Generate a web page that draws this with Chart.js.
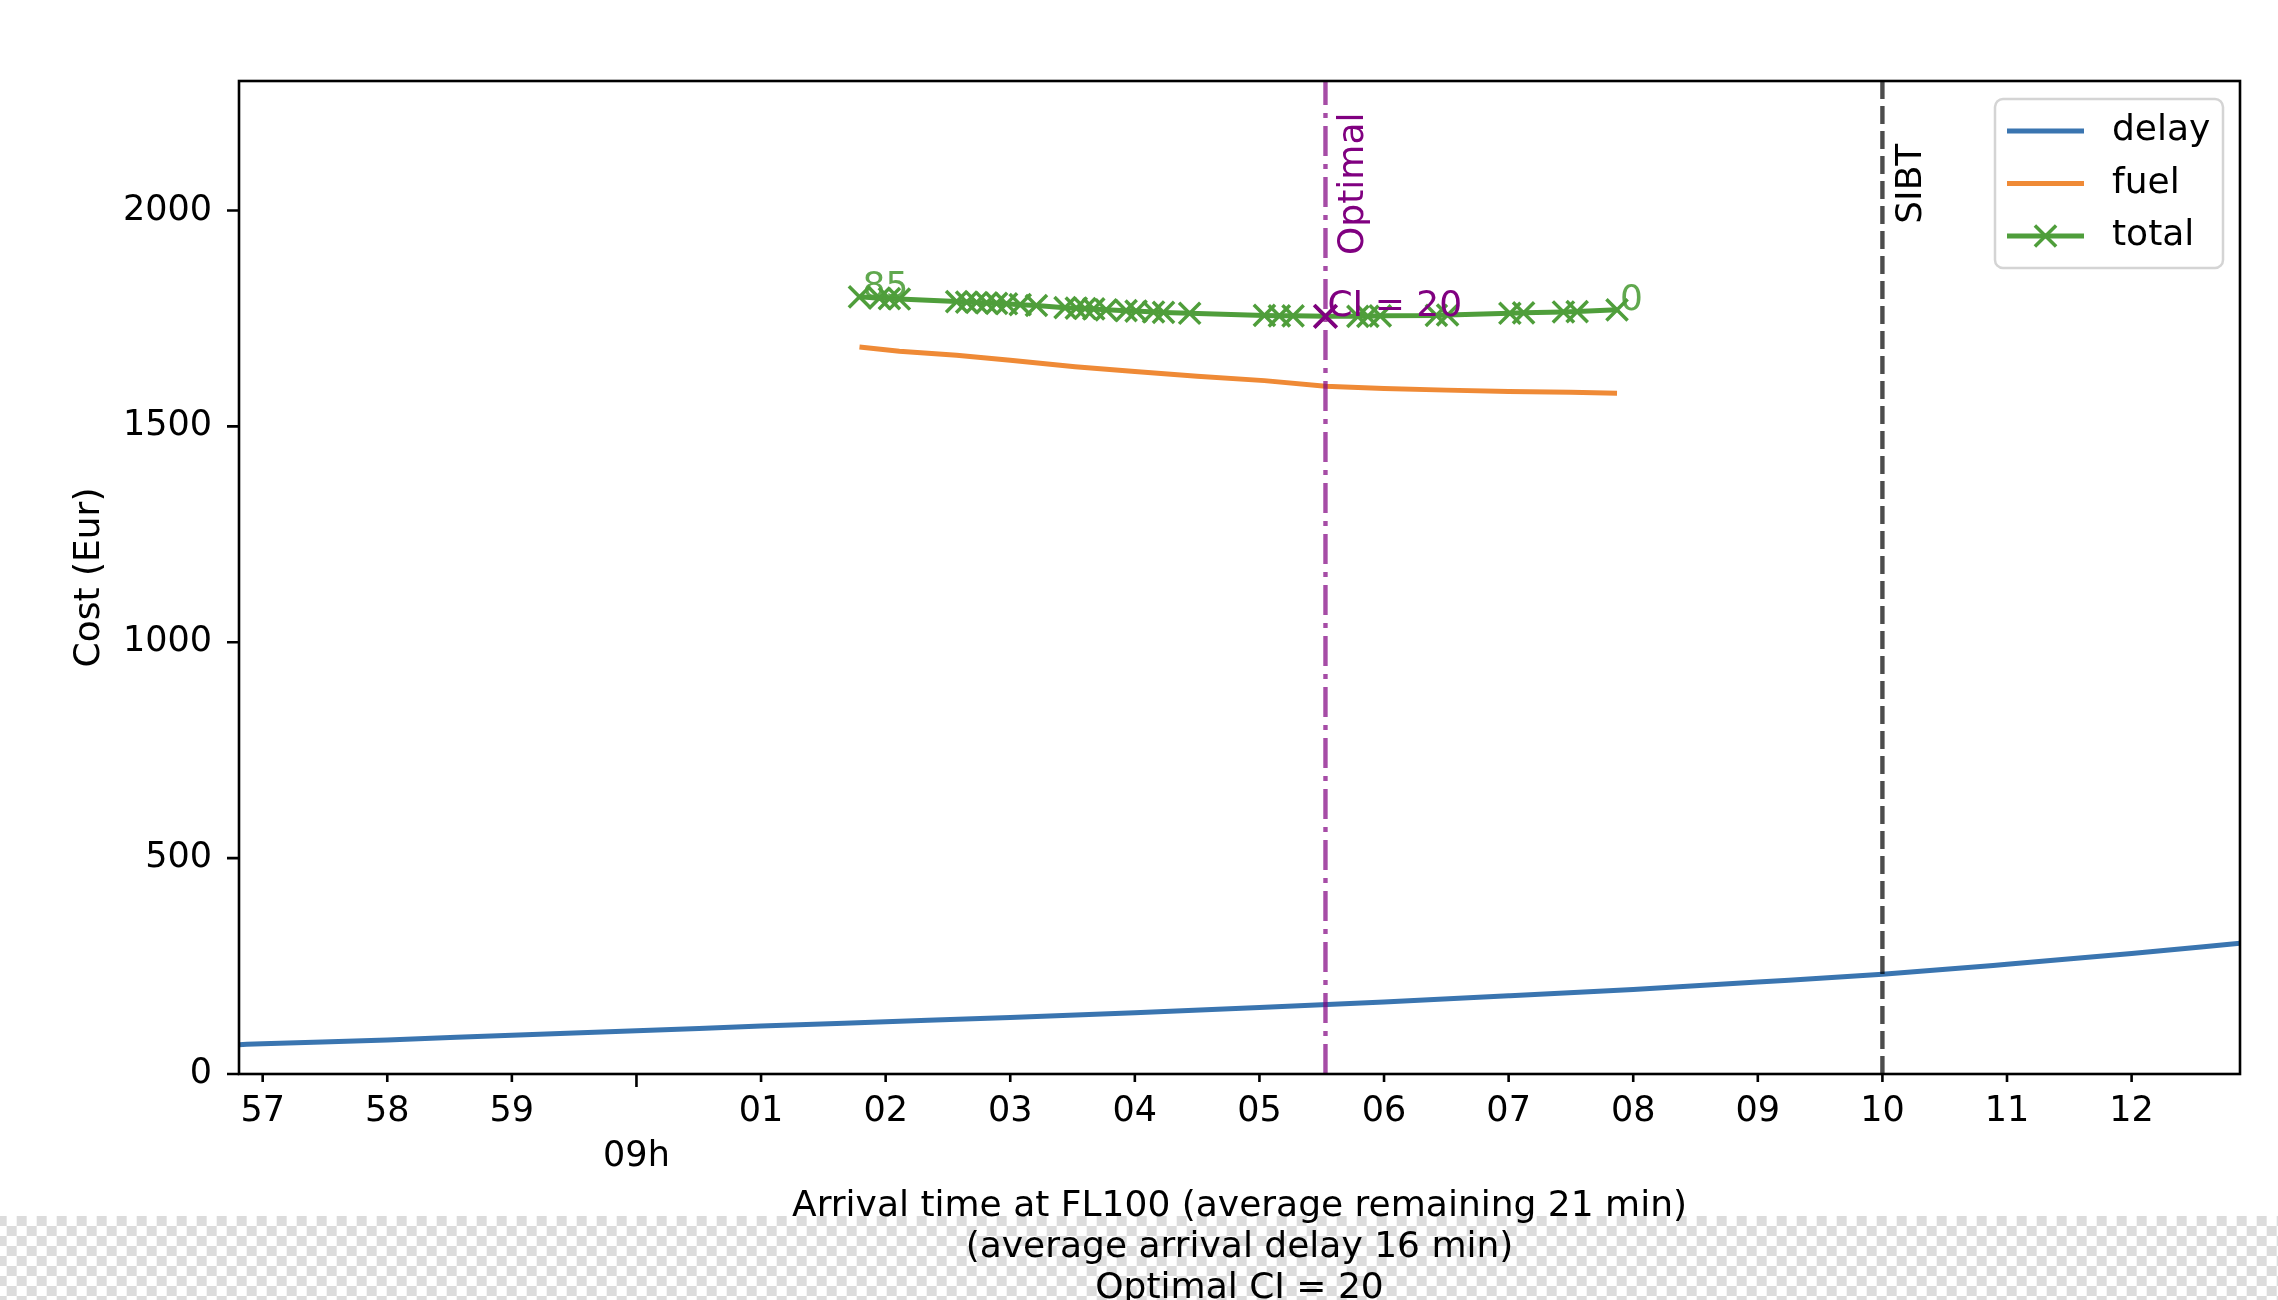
<!DOCTYPE html>
<html>
<head>
<meta charset="utf-8">
<script src="https://cdn.jsdelivr.net/npm/chart.js@4.4.1/dist/chart.umd.min.js"></script>
<style>
  html, body { margin: 0; padding: 0; width: 2278px; height: 1300px; overflow: hidden; background: #fff; }
  #checker {
    position: absolute; left: 0; top: 1216px; width: 2278px; height: 84px;
    background-color: #fff;
    background-image: conic-gradient(#dcdcdc 25%, #fff 0 50%, #dcdcdc 0 75%, #fff 0);
    background-size: 20px 20px;
    background-position: 6.7px 0;
  }
  #c { position: absolute; left: 0; top: 0; }
</style>
</head>
<body>
<div id="checker"></div>
<canvas id="c" width="2278" height="1300"></canvas>
<script>
// x values are minutes relative to 09:00
const delayX = [-3.19, -3, -2, -1, 0, 1, 2, 3, 4, 5, 6, 7, 8, 9, 10, 11, 12, 12.87];
const delayY = [68, 70, 79, 90, 100, 111, 121, 131, 142, 154, 167, 181, 196, 213, 231, 254, 279, 303];

const fuelX = [1.79, 2.11, 2.57, 3.0, 3.52, 4.0, 4.5, 5.04, 5.53, 6.0, 6.5, 7.0, 7.5, 7.87];
const fuelY = [1684, 1674, 1665, 1653, 1638, 1627, 1616, 1606, 1593, 1588, 1584, 1581, 1579, 1577];

const totalX = [1.79, 1.95, 2.03, 2.11, 2.57, 2.65, 2.73, 2.81, 2.89, 2.97, 3.08, 3.21,
                3.44, 3.53, 3.60, 3.67, 3.77, 3.93, 4.01, 4.15, 4.23, 4.44,
                5.04, 5.16, 5.27, 5.53, 5.79, 5.87, 5.97, 6.42, 6.51,
                7.01, 7.12, 7.44, 7.55, 7.87];
const totalY = [1800, 1797, 1796, 1795, 1789, 1788, 1787, 1786, 1785, 1784, 1782, 1780,
                1775, 1774, 1773, 1772, 1770, 1768, 1767, 1765, 1764, 1762,
                1757, 1756, 1756, 1755, 1755, 1755, 1756, 1757, 1758,
                1762, 1763, 1765, 1766, 1770];
const ciLabels = ["85", "0"]; // cost index at first and last point

const optimalX = 5.53;
const optimalY = 1755;
const optimalText = "CI = 20";
const sibtX = 10;

const xMin = -3.19, xMax = 12.87;
const yMin = 0, yMax = 2300;
const xTicks = [-3, -2, -1, 0, 1, 2, 3, 4, 5, 6, 7, 8, 9, 10, 11, 12];
const xTickLabels = ["57", "58", "59", "", "01", "02", "03", "04", "05", "06", "07", "08", "09", "10", "11", "12"];
const hourTick = 0;
const hourLabel = "09h";
const yTicks = [0, 500, 1000, 1500, 2000];

const xTitle = ["Arrival time at FL100 (average remaining 21 min)",
                "(average arrival delay 16 min)",
                "Optimal CI = 20"];
const yTitle = "Cost (Eur)";

const BLUE = "#3a75b0";
const ORANGE = "#ef8a36";
const GREEN = "#4f9e3b";
const PURPLE = "#800080";
const FONT = "DejaVu Sans";

Chart.defaults.font.family = FONT;

const pts = (xs, ys) => xs.map((x, i) => ({ x: x, y: ys[i] }));

const framePlugin = {
  id: "frame",
  afterDatasetsDraw(chart) {
    const { ctx, chartArea: a, scales } = chart;
    ctx.save();
    ctx.strokeStyle = "#000";
    ctx.lineWidth = 2.6;
    ctx.beginPath();
    xTicks.forEach(v => {
      const px = scales.x.getPixelForValue(v);
      ctx.moveTo(px, a.bottom);
      ctx.lineTo(px, a.bottom + (v === hourTick ? 13 : 8));
    });
    yTicks.forEach(v => {
      const py = scales.y.getPixelForValue(v);
      ctx.moveTo(a.left, py);
      ctx.lineTo(a.left - 12, py);
    });
    ctx.stroke();
    ctx.strokeRect(a.left, a.top, a.right - a.left, a.bottom - a.top);
    ctx.restore();
  },
  afterDraw(chart) {
    const { ctx, scales } = chart;
    const total = chart.getDatasetMeta(3).data;
    ctx.save();
    ctx.font = "36px '" + FONT + "'";
    ctx.textAlign = "left";
    ctx.textBaseline = "alphabetic";
    // CI annotations on the total curve
    ctx.fillStyle = "rgba(79,158,59,0.9)";
    ctx.fillText(ciLabels[0], total[0].x + 3, total[0].y);
    const last = total[total.length - 1];
    ctx.fillText(ciLabels[1], last.x + 3, last.y);
    const opt = chart.getDatasetMeta(0).data[0];
    ctx.fillStyle = PURPLE;
    ctx.fillText(optimalText, opt.x + 2, opt.y);

    // rotated labels of the vertical lines
    const yc = scales.y.getPixelForValue(2062);
    ctx.textAlign = "center";
    ctx.save();
    ctx.translate(scales.x.getPixelForValue(optimalX) + 38, yc);
    ctx.rotate(-Math.PI / 2);
    ctx.fillStyle = PURPLE;
    ctx.fillText("Optimal", 0, 0);
    ctx.restore();
    ctx.save();
    ctx.translate(scales.x.getPixelForValue(sibtX) + 39, yc);
    ctx.rotate(-Math.PI / 2);
    ctx.fillStyle = "#000";
    ctx.fillText("SIBT", 0, 0);
    ctx.restore();

    // legend
    const bx = 1995, by = 99, bw = 228, bh = 169;
    ctx.fillStyle = "rgba(255,255,255,0.8)";
    ctx.strokeStyle = "#d4d4d4";
    ctx.lineWidth = 2.5;
    ctx.beginPath();
    ctx.roundRect(bx, by, bw, bh, 8);
    ctx.fill();
    ctx.stroke();
    const entries = [5, 4, 3].map(i => chart.data.datasets[i]);
    ctx.textAlign = "left";
    ctx.textBaseline = "middle";
    entries.forEach((ds, k) => {
      const ly = 131 + k * 52.5;
      ctx.strokeStyle = ds.borderColor;
      ctx.lineWidth = 5;
      ctx.beginPath();
      ctx.moveTo(2007, ly);
      ctx.lineTo(2084, ly);
      ctx.stroke();
      if (ds.pointRadius) {
        const r = ds.pointRadius * Math.SQRT1_2;
        ctx.lineWidth = ds.pointBorderWidth;
        ctx.beginPath();
        ctx.moveTo(2045.5 - r, ly - r); ctx.lineTo(2045.5 + r, ly + r);
        ctx.moveTo(2045.5 - r, ly + r); ctx.lineTo(2045.5 + r, ly - r);
        ctx.stroke();
      }
      ctx.fillStyle = "#000";
      ctx.fillText(ds.label, 2112, ly);
    });
    ctx.restore();
  }
};

new Chart(document.getElementById("c"), {
  type: "line",
  data: {
    datasets: [
      { label: "optimal", data: [{ x: optimalX, y: optimalY }], showLine: false,
        pointStyle: "crossRot", pointRadius: 16, pointBorderWidth: 3.8,
        pointBorderColor: PURPLE, borderColor: PURPLE, order: 0 },
      { label: "Optimal", data: [{ x: optimalX, y: yMin }, { x: optimalX, y: yMax }],
        borderColor: "rgba(128,0,128,0.7)", borderWidth: 4.4, borderDash: [30, 8, 5, 8],
        pointRadius: 0, order: 1 },
      { label: "SIBT", data: [{ x: sibtX, y: yMin }, { x: sibtX, y: yMax }],
        borderColor: "rgba(0,0,0,0.7)", borderWidth: 4.4, borderDash: [18, 7],
        pointRadius: 0, order: 2 },
      { label: "total", data: pts(totalX, totalY), borderColor: GREEN, borderWidth: 5,
        pointStyle: "crossRot", pointRadius: 15, pointBorderWidth: 3.5,
        pointBorderColor: GREEN, pointBackgroundColor: GREEN, order: 3 },
      { label: "fuel", data: pts(fuelX, fuelY), borderColor: ORANGE, borderWidth: 5,
        pointRadius: 0, order: 4 },
      { label: "delay", data: pts(delayX, delayY), borderColor: BLUE, borderWidth: 5,
        pointRadius: 0, cubicInterpolationMode: "monotone", order: 5 }
    ]
  },
  options: {
    responsive: false,
    devicePixelRatio: 1,
    animation: false,
    layout: { padding: { left: 0, right: 38, top: 81, bottom: 0 } },
    plugins: { legend: { display: false }, tooltip: { enabled: false } },
    elements: { line: { tension: 0 } },
    scales: {
      x: {
        type: "linear", min: xMin, max: xMax,
        afterBuildTicks: s => { s.ticks = xTicks.map(v => ({ value: v })); },
        afterFit: s => { s.height = 226; s.paddingLeft = 0; s.paddingRight = 0; },
        grid: { display: false, drawTicks: false },
        border: { display: false },
        ticks: {
          autoSkip: false, maxRotation: 0, minRotation: 0, padding: 15, color: "#000",
          font: { size: 35, lineHeight: 1.3 },
          callback: v => v === hourTick ? ["", hourLabel] : xTickLabels[xTicks.indexOf(v)]
        },
        title: { display: true, text: xTitle, color: "#000",
                 font: { size: 36, lineHeight: 41 / 36 }, padding: { top: 0, bottom: -9 } }
      },
      y: {
        min: yMin, max: yMax,
        afterBuildTicks: s => { s.ticks = yTicks.map(v => ({ value: v })); },
        afterFit: s => { s.width = 239; },
        grid: { display: false, drawTicks: false },
        border: { display: false },
        ticks: { padding: 27, color: "#000", font: { size: 35 }, callback: v => String(v) },
        title: { display: true, text: yTitle, color: "#000",
                 font: { size: 36, lineHeight: 41 / 36 }, padding: { top: 69, bottom: 0 } }
      }
    }
  },
  plugins: [framePlugin]
});
</script>
</body>
</html>
